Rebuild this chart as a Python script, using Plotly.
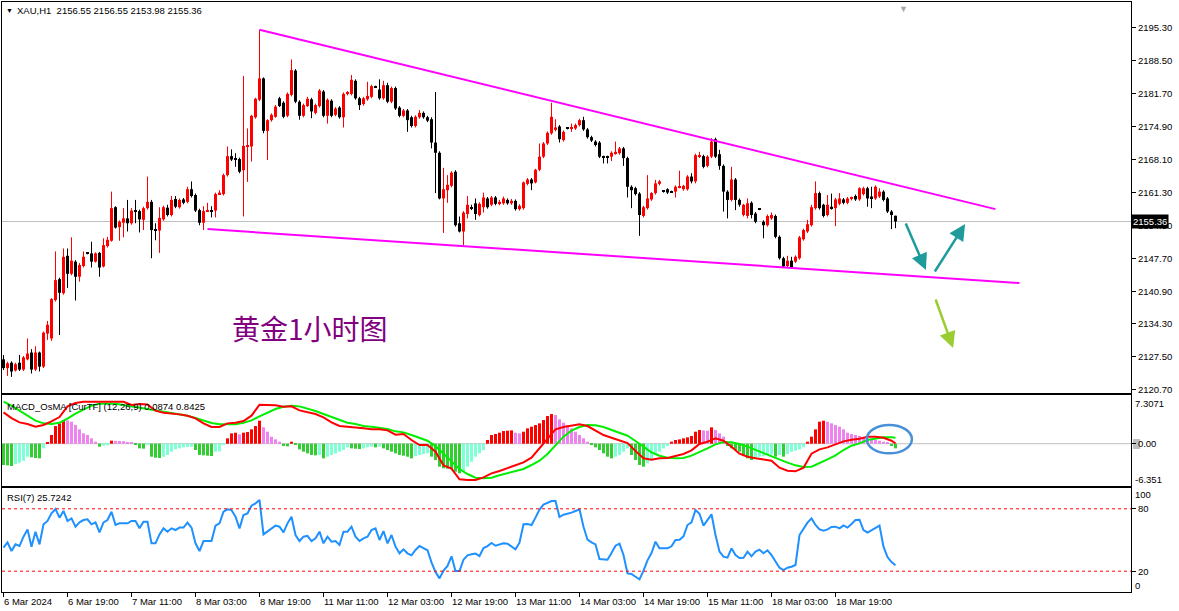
import plotly.graph_objects as go

# ---------------- data ----------------
bar_open = [
    2127.0, 2125.2, 2126.3, 2124.7, 2126.3, 2124.9, 2127.0, 2128.4, 2124.9, 2128.4,
    2125.5, 2132.3, 2131.3, 2139.2, 2143.5, 2140.6, 2148.3, 2144.6, 2147.1, 2144.0,
    2146.2, 2148.9, 2148.8, 2147.1, 2148.9, 2146.1, 2150.3, 2151.4, 2158.3, 2154.2,
    2155.1, 2156.0, 2155.0, 2157.6, 2157.5, 2155.7, 2158.1, 2159.4, 2153.8, 2153.5,
    2155.8, 2158.2, 2156.7, 2160.0, 2158.3, 2159.9, 2159.4, 2162.0, 2160.8, 2157.7,
    2155.1, 2157.4, 2157.7, 2157.6, 2161.0, 2161.0, 2164.9, 2168.8, 2168.2, 2168.2,
    2165.9, 2170.8, 2170.8, 2176.8, 2180.4, 2184.8, 2174.0, 2176.2, 2176.9, 2180.7,
    2179.8, 2177.1, 2181.4, 2186.4, 2180.0, 2177.1, 2179.1, 2180.5, 2177.7, 2179.1,
    2182.1, 2177.1, 2180.2, 2177.3, 2178.8, 2176.8, 2181.6, 2181.6, 2184.3, 2180.7,
    2179.5, 2180.5, 2181.0, 2183.1, 2182.5, 2180.7, 2183.4, 2180.0, 2182.8, 2178.8,
    2177.1, 2178.2, 2176.8, 2175.0, 2176.8, 2177.7, 2176.8, 2176.4, 2171.6, 2169.5,
    2160.1, 2161.8, 2162.7, 2165.6, 2155.0, 2153.3, 2156.9, 2158.1, 2159.1, 2156.7,
    2158.3, 2160.1, 2158.8, 2160.3, 2159.0, 2159.1, 2159.8, 2159.1, 2159.6, 2157.9,
    2158.1, 2163.1, 2164.0, 2163.4, 2166.0, 2168.7, 2171.4, 2173.5, 2174.2, 2174.9,
    2172.1, 2174.5, 2174.5, 2174.5, 2175.2, 2176.2, 2174.3, 2172.7, 2171.8, 2171.6,
    2168.7, 2168.7, 2168.7, 2169.4, 2169.4, 2170.4, 2168.4, 2162.5, 2162.2, 2161.1,
    2156.5, 2158.1, 2159.9, 2161.2, 2163.1, 2161.6, 2162.0, 2161.5, 2161.5, 2162.4,
    2162.0, 2162.0, 2164.6, 2163.6, 2168.7, 2168.8, 2166.8, 2168.7, 2172.3, 2169.2,
    2166.8, 2161.5, 2159.8, 2164.0, 2159.8, 2156.7, 2156.5, 2159.2, 2157.0, 2157.9,
    2155.3, 2154.6, 2156.0, 2156.5, 2152.2, 2147.8, 2146.2, 2147.3, 2147.1, 2147.8,
    2151.7, 2153.3, 2154.6, 2158.1, 2161.2, 2158.8, 2156.7, 2158.4, 2158.1, 2159.0,
    2159.9, 2159.2, 2160.0, 2160.6, 2159.9, 2161.0, 2162.2, 2160.5, 2160.1, 2160.5,
    2161.5, 2160.1, 2157.4, 2156.55]
bar_high = [
    2127.9, 2126.5, 2126.6, 2126.3, 2127.9, 2127.7, 2131.3, 2129.1, 2129.7, 2128.6,
    2132.7, 2134.9, 2139.6, 2149.2, 2143.8, 2149.8, 2149.8, 2152.1, 2147.4, 2146.8,
    2149.2, 2149.0, 2151.2, 2149.0, 2149.1, 2151.9, 2152.2, 2161.5, 2158.5, 2155.6,
    2158.1, 2159.8, 2158.1, 2159.8, 2157.8, 2158.4, 2164.6, 2159.8, 2155.0, 2158.3,
    2158.6, 2158.8, 2160.6, 2160.6, 2160.1, 2160.2, 2162.5, 2163.6, 2161.1, 2158.0,
    2158.5, 2159.2, 2158.5, 2161.3, 2161.8, 2165.2, 2170.8, 2170.2, 2169.4, 2168.5,
    2185.3, 2174.5, 2177.3, 2180.8, 2194.8, 2185.0, 2176.4, 2177.6, 2179.3, 2181.0,
    2180.1, 2181.9, 2188.7, 2186.7, 2180.3, 2179.6, 2181.0, 2180.8, 2179.6, 2182.6,
    2182.4, 2180.7, 2180.5, 2178.9, 2179.1, 2181.9, 2182.2, 2185.5, 2184.6, 2181.0,
    2181.0, 2184.1, 2183.5, 2183.3, 2184.6, 2184.3, 2183.9, 2183.1, 2183.1, 2179.1,
    2178.5, 2178.5, 2177.1, 2177.2, 2178.3, 2178.0, 2177.1, 2176.8, 2182.0, 2169.8,
    2166.4, 2164.9, 2165.7, 2165.9, 2156.4, 2157.5, 2160.6, 2158.8, 2160.1, 2159.3,
    2161.3, 2160.4, 2160.6, 2160.6, 2159.8, 2160.5, 2160.1, 2160.0, 2159.9, 2158.9,
    2163.6, 2164.3, 2164.3, 2166.2, 2171.4, 2171.7, 2173.9, 2179.8, 2176.4, 2175.2,
    2174.1, 2174.7, 2175.5, 2175.5, 2176.5, 2176.9, 2174.6, 2173.0, 2172.1, 2171.9,
    2168.9, 2168.9, 2169.8, 2171.8, 2170.7, 2170.7, 2168.7, 2162.8, 2162.5, 2161.4,
    2158.6, 2164.9, 2161.4, 2163.9, 2163.9, 2161.7, 2162.2, 2161.7, 2162.8, 2165.8,
    2162.9, 2164.9, 2165.3, 2169.3, 2169.7, 2169.1, 2169.0, 2172.5, 2172.6, 2170.1,
    2167.1, 2161.8, 2166.6, 2164.3, 2160.1, 2159.0, 2160.1, 2159.5, 2157.3, 2158.1,
    2155.6, 2156.8, 2157.2, 2156.8, 2152.5, 2148.1, 2148.3, 2148.1, 2148.4, 2152.4,
    2153.9, 2155.7, 2158.8, 2163.6, 2161.5, 2159.0, 2160.8, 2161.1, 2160.2, 2161.2,
    2160.2, 2160.4, 2160.5, 2160.9, 2162.4, 2162.5, 2162.5, 2162.5, 2162.8, 2162.2,
    2161.8, 2160.4, 2157.7, 2156.55]
bar_low = [
    2124.8, 2123.6, 2123.4, 2124.5, 2124.6, 2124.6, 2126.8, 2124.1, 2124.6, 2124.5,
    2125.2, 2131.0, 2130.8, 2138.9, 2132.0, 2140.3, 2141.7, 2144.3, 2139.1, 2143.0,
    2145.9, 2148.6, 2145.9, 2146.9, 2144.0, 2145.9, 2150.0, 2151.2, 2153.9, 2151.4,
    2152.1, 2153.3, 2154.7, 2155.0, 2153.1, 2153.6, 2157.8, 2147.8, 2151.5, 2148.9,
    2155.5, 2156.4, 2156.4, 2158.1, 2158.0, 2158.9, 2159.1, 2160.3, 2157.3, 2154.6,
    2153.6, 2157.3, 2156.2, 2156.2, 2160.8, 2160.7, 2164.6, 2167.8, 2166.6, 2165.3,
    2156.4, 2163.5, 2167.7, 2176.5, 2180.1, 2173.5, 2168.0, 2175.9, 2176.7, 2178.9,
    2176.6, 2176.8, 2181.1, 2179.7, 2176.3, 2176.8, 2178.9, 2176.6, 2177.4, 2178.8,
    2176.8, 2175.5, 2176.8, 2177.0, 2176.5, 2174.7, 2181.3, 2181.3, 2180.4, 2178.3,
    2179.2, 2180.2, 2180.7, 2182.9, 2180.4, 2180.4, 2179.7, 2179.7, 2178.3, 2176.8,
    2176.8, 2173.8, 2174.7, 2174.7, 2176.5, 2176.5, 2175.8, 2170.4, 2161.2, 2159.9,
    2153.0, 2159.2, 2162.4, 2154.3, 2153.1, 2150.5, 2156.0, 2157.7, 2155.7, 2156.4,
    2157.2, 2158.0, 2158.5, 2158.7, 2158.7, 2158.8, 2158.8, 2158.8, 2157.6, 2157.6,
    2157.8, 2162.8, 2161.8, 2163.2, 2165.7, 2168.4, 2171.1, 2173.2, 2173.9, 2171.6,
    2171.8, 2174.3, 2173.8, 2174.2, 2174.9, 2174.0, 2172.4, 2171.7, 2170.8, 2168.4,
    2167.3, 2167.3, 2167.8, 2169.1, 2169.1, 2166.8, 2160.3, 2158.1, 2160.7, 2152.4,
    2156.2, 2157.8, 2159.6, 2160.9, 2162.8, 2161.3, 2161.0, 2161.3, 2160.3, 2162.2,
    2161.7, 2161.7, 2163.2, 2163.2, 2168.4, 2166.3, 2166.5, 2168.4, 2168.4, 2166.0,
    2157.4, 2156.0, 2159.5, 2157.7, 2158.4, 2156.4, 2156.0, 2156.0, 2155.0, 2157.7,
    2151.9, 2154.3, 2155.7, 2151.9, 2147.5, 2145.8, 2145.9, 2145.6, 2146.8, 2147.5,
    2151.4, 2153.0, 2154.3, 2157.8, 2157.8, 2156.2, 2156.4, 2157.8, 2154.4, 2158.7,
    2158.9, 2158.9, 2159.7, 2159.6, 2159.6, 2160.7, 2158.4, 2158.1, 2159.8, 2160.2,
    2159.5, 2157.1, 2153.8, 2153.98]
bar_close = [
    2125.2, 2126.2, 2124.5, 2126.0, 2124.9, 2127.4, 2128.2, 2124.9, 2128.4, 2125.5,
    2132.5, 2134.1, 2139.4, 2143.3, 2140.7, 2148.1, 2144.6, 2147.3, 2144.0, 2146.4,
    2148.1, 2148.8, 2147.1, 2148.8, 2145.9, 2150.5, 2151.6, 2158.1, 2154.1, 2155.3,
    2156.0, 2155.0, 2157.6, 2157.4, 2155.8, 2158.1, 2159.4, 2153.6, 2153.5, 2156.1,
    2158.3, 2156.7, 2159.8, 2158.4, 2159.8, 2159.2, 2162.0, 2160.6, 2157.6, 2155.1,
    2157.5, 2157.5, 2157.4, 2161.0, 2161.3, 2164.9, 2168.8, 2168.1, 2168.1, 2165.6,
    2170.9, 2170.9, 2177.1, 2180.6, 2184.8, 2174.0, 2176.2, 2177.3, 2179.0, 2179.1,
    2176.9, 2181.6, 2186.5, 2180.0, 2177.1, 2179.3, 2180.6, 2178.0, 2179.3, 2182.3,
    2177.1, 2180.4, 2177.1, 2178.6, 2176.8, 2181.6, 2181.9, 2184.5, 2180.7, 2179.3,
    2180.7, 2181.2, 2183.2, 2183.0, 2180.7, 2183.4, 2180.0, 2182.8, 2178.6, 2177.1,
    2178.2, 2176.2, 2175.0, 2176.9, 2177.7, 2176.8, 2176.1, 2171.6, 2169.5, 2160.1,
    2162.0, 2162.9, 2165.4, 2154.6, 2153.3, 2157.2, 2158.8, 2158.0, 2156.9, 2159.0,
    2160.3, 2158.3, 2160.3, 2159.0, 2159.4, 2160.1, 2159.1, 2159.6, 2157.9, 2158.6,
    2163.4, 2164.0, 2163.2, 2166.0, 2168.7, 2171.4, 2173.6, 2176.9, 2174.7, 2172.3,
    2173.8, 2174.4, 2174.6, 2175.2, 2176.2, 2174.3, 2172.7, 2172.0, 2171.1, 2168.7,
    2168.6, 2168.6, 2169.5, 2169.7, 2170.4, 2168.4, 2162.5, 2161.8, 2161.0, 2156.7,
    2158.3, 2160.1, 2161.2, 2163.2, 2163.6, 2161.5, 2161.3, 2161.4, 2162.5, 2162.5,
    2162.7, 2164.6, 2163.6, 2169.0, 2169.0, 2166.6, 2168.7, 2171.8, 2168.7, 2166.8,
    2161.5, 2159.8, 2164.0, 2159.8, 2158.8, 2158.8, 2159.1, 2156.7, 2155.3, 2157.9,
    2154.6, 2156.5, 2156.7, 2152.2, 2147.8, 2146.1, 2147.3, 2145.9, 2148.1, 2152.1,
    2153.6, 2154.8, 2158.3, 2161.2, 2158.1, 2156.5, 2158.8, 2158.1, 2159.9, 2160.1,
    2159.2, 2160.1, 2160.2, 2159.9, 2162.2, 2162.2, 2160.1, 2160.1, 2162.5, 2161.5,
    2159.8, 2157.4, 2156.7, 2155.36]

# MACD OsMA histogram, one value per bar
osma = [
    -3.20, -3.25, -3.35, -3.05, -2.85, -2.55, -1.95, -2.05, -2.15, -2.20,
    -0.70, 0.15, 1.30, 2.65, 3.05, 3.55, 3.50, 3.30, 2.80, 2.15,
    1.55, 1.30, 0.80, 0.30, -0.45, -0.30, -0.25, 0.45, 0.42, 0.40,
    0.37, 0.20, 0.15, -0.15, -0.70, -0.75, -0.20, -1.95, -2.10, -2.15,
    -1.95, -1.70, -1.20, -0.85, -0.70, -0.55, -0.50, -0.45, -0.95, -1.70,
    -1.75, -1.80, -1.85, -1.20, -1.15, -0.05, 0.80, 1.55, 1.65, 1.40,
    1.65, 1.75, 2.15, 2.65, 3.45, 2.45, 1.80, 1.05, 0.65, 0.30,
    -0.35, -0.40, 0.30, -0.15, -0.85, -1.20, -1.45, -1.70, -1.75, -1.70,
    -2.20, -1.95, -1.70, -1.45, -1.20, -0.95, -0.55, -0.70, -0.75, -0.80,
    -0.70, -0.55, -0.45, -0.55, -0.45, -0.70, -0.95, -1.20, -1.45, -1.70,
    -1.80, -1.95, -2.20, -1.85, -1.70, -1.55, -1.45, -1.95, -2.45, -3.45,
    -3.70, -3.75, -3.85, -4.20, -4.45, -4.20, -3.45, -2.70, -1.95, -1.45,
    -0.95, 0.55, 1.30, 1.45, 1.65, 1.90, 1.95, 2.00, 1.65, 1.55,
    1.80, 2.30, 2.55, 2.80, 3.05, 3.55, 4.15, 4.45, 4.30, 3.65,
    3.15, 2.80, 2.30, 1.80, 1.30, 0.80, 0.30, -0.20, -0.55, -0.95,
    -1.45, -1.95, -2.20, -1.95, -1.70, -1.20, -0.70, -1.70, -2.45, -3.20,
    -3.45, -2.95, -2.45, -1.70, -1.20, -0.70, -0.35, 0.30, 0.55, 0.65,
    0.80, 0.95, 1.15, 1.80, 2.05, 2.00, 1.95, 2.45, 2.05, 1.55,
    1.05, -0.35, -0.70, -0.95, -1.20, -1.70, -2.20, -2.45, -2.20, -1.95,
    -1.90, -1.70, -1.65, -1.95, -1.70, -1.95, -1.55, -1.20, -1.05, -0.85,
    -0.55, 0.30, 1.05, 2.15, 3.30, 3.45, 3.30, 3.05, 2.80, 2.55,
    2.15, 1.65, 1.45, 1.30, 1.15, 0.95, 0.80, 0.65, 0.55, 0.45,
    0.30, 0.15, -0.35, -0.70]

# MACD main (red) and signal (green) lines, read every second bar plus the last bar
macd_main = [
    4.70, 3.85, 3.20, 2.95, 2.55, 2.80, 3.35, 4.00, 5.60, 6.10,
    6.30, 6.30, 6.30, 6.30, 6.35, 6.30, 5.80, 5.95, 5.90, 4.95,
    4.65, 4.55, 4.40, 4.20, 3.80, 3.05, 2.50, 2.50, 3.05, 3.15,
    3.40, 4.20, 5.85, 5.80, 5.75, 5.55, 5.60, 5.00, 4.70, 4.45,
    3.95, 3.20, 2.65, 2.55, 2.50, 2.30, 2.15, 2.15, 2.00, 1.35,
    1.45, 0.55, -0.20, -0.20, -1.20, -3.25, -3.75, -5.35, -5.45, -5.45,
    -5.05, -4.45, -4.10, -3.70, -3.30, -2.80, -2.10, -0.70, 0.60, 2.15,
    2.50, 2.70, 2.90, 2.65, 1.95, 1.30, 0.90, 0.55, 0.10, -1.10,
    -2.20, -2.40, -2.20, -2.15, -1.90, -1.55, -1.00, -0.05, 0.30, 0.80,
    0.45, -0.45, -1.50, -1.95, -2.20, -2.35, -2.55, -3.60, -4.05, -4.15,
    -3.60, -1.50, -0.85, -0.55, -0.15, 0.35, 0.60, 0.75, 1.05, 1.05,
    0.90, 0.45, 0.05]
macd_signal = [
    6.30, 5.70, 4.95, 4.20, 3.45, 3.05, 2.95, 3.15, 3.75, 4.50,
    5.15, 5.70, 6.00, 6.05, 6.00, 5.80, 5.60, 5.40, 5.15, 4.95,
    4.80, 4.65, 4.40, 4.20, 3.85, 3.45, 3.10, 2.90, 2.85, 2.90,
    3.15, 3.50, 4.10, 4.65, 5.20, 5.55, 5.70, 5.60, 5.30, 4.90,
    4.45, 4.00, 3.55, 3.15, 2.95, 2.65, 2.55, 2.40, 2.20, 1.85,
    1.70, 1.30, 0.85, 0.45, -0.35, -1.45, -2.60, -3.80, -4.55, -5.10,
    -5.20, -5.10, -4.75, -4.45, -4.15, -3.80, -3.20, -2.55, -1.55, -0.30,
    1.05, 1.95, 2.50, 2.80, 2.75, 2.50, 2.10, 1.65, 1.20, 0.40,
    -0.45, -1.30, -1.80, -2.10, -2.20, -2.15, -1.80, -1.30, -0.70, -0.10,
    0.25, 0.20, -0.05, -0.45, -0.95, -1.40, -1.85, -2.40, -2.85, -3.25,
    -3.50, -3.45, -2.95, -2.35, -1.75, -0.95, -0.30, 0.05, 0.55, 0.80,
    0.95, 0.95, 0.90]

# RSI(7), one value per bar
rsi = [
    42.6, 47.7, 39.4, 45.8, 44.2, 53.2, 60.2, 43.6, 58.0, 45.8,
    65.1, 68.3, 75.6, 79.8, 71.5, 77.9, 68.3, 70.8, 62.8, 67.0,
    69.2, 69.9, 65.1, 67.0, 57.4, 67.0, 69.2, 77.2, 64.4, 66.0,
    66.0, 66.0, 68.3, 68.3, 61.2, 67.6, 67.6, 46.8, 46.8, 55.4,
    61.2, 58.0, 61.2, 59.6, 61.9, 61.9, 66.7, 61.9, 46.8, 39.4,
    49.0, 49.0, 49.0, 63.8, 66.0, 77.2, 79.5, 78.8, 72.4, 61.2,
    74.0, 75.6, 83.0, 85.2, 88.5, 55.4, 58.0, 61.2, 63.8, 62.8,
    57.4, 66.0, 72.4, 54.8, 49.0, 53.2, 54.0, 49.0, 51.6, 58.0,
    46.8, 53.2, 48.4, 49.0, 45.2, 58.0, 58.0, 62.8, 53.2, 49.0,
    51.6, 53.2, 59.6, 61.2, 50.0, 58.6, 46.8, 54.8, 43.6, 37.2,
    41.0, 37.2, 35.3, 40.4, 44.2, 42.3, 40.1, 28.5, 19.2, 13.1,
    20.5, 25.0, 34.3, 20.2, 20.2, 31.1, 35.3, 36.2, 36.9, 34.6,
    42.3, 44.2, 47.1, 44.5, 45.5, 46.8, 46.5, 43.9, 41.0, 47.4,
    65.1, 65.4, 64.4, 71.5, 79.2, 84.0, 85.9, 87.5, 87.5, 72.1,
    74.3, 75.0, 76.3, 77.9, 79.5, 62.8, 50.3, 47.7, 45.8, 31.7,
    31.1, 31.1, 37.5, 44.5, 46.5, 35.6, 17.9, 17.3, 14.7, 12.2,
    20.5, 30.4, 37.5, 48.4, 42.0, 42.0, 42.0, 43.9, 50.0, 50.3,
    53.5, 64.4, 67.0, 78.8, 75.3, 63.8, 69.5, 74.7, 54.8, 38.8,
    34.0, 33.0, 42.0, 35.6, 32.7, 33.0, 38.8, 34.3, 38.8, 40.7,
    37.2, 40.1, 35.6, 29.2, 23.4, 21.1, 23.4, 24.3, 26.0, 54.8,
    61.2, 66.7, 70.8, 64.4, 60.2, 59.0, 60.2, 62.5, 62.8, 61.2,
    64.1, 61.9, 65.4, 69.2, 69.5, 59.6, 57.1, 59.6, 61.5, 63.8,
    43.6, 33.6, 28.8, 25.72]

time_labels = ["6 Mar 2024", "6 Mar 19:00", "7 Mar 11:00", "8 Mar 03:00", "8 Mar 19:00",
               "11 Mar 11:00", "12 Mar 03:00", "12 Mar 19:00", "13 Mar 11:00", "14 Mar 03:00",
               "14 Mar 19:00", "15 Mar 11:00", "18 Mar 03:00", "18 Mar 19:00"]
price_ticks = [2195.30, 2188.50, 2181.70, 2174.90, 2168.10, 2161.30, 2154.50,
               2147.70, 2140.90, 2134.30, 2127.50, 2120.70]
last_price = 2155.36
macd_max, macd_min = 7.3071, -6.351
rsi_levels = [80, 20]
title_text = "XAU,H1  2156.55 2156.55 2153.98 2155.36"
macd_title = "MACD_OsMA [CurTF] (12,26,9) 0.0874 0.8425"
rsi_title = "RSI(7) 25.7242"
chart_note = "黄金1小时图"

# drawing objects anchored in (bar index, price)
upper_trend_bars, upper_trend_prices = [64, 248], [2194.8, 2157.9]
lower_trend_bars, lower_trend_prices = [51, 254], [2153.8, 2142.7]
arrow_tail_bars = [225.4, 232.6, 232.9]
arrow_tail_prices = [2155.25, 2144.76, 2139.62]
arrow_tip_bars = [230.6, 240.4, 237.4]
arrow_tip_prices = [2145.38, 2154.84, 2129.33]
note_bar, note_price = 76.6, 2133.45
ellipse_bars, ellipse_values = [215.8, 227.1], [-1.45, 2.8]

# ---------------- style ----------------
FONT = "Liberation Sans, Arial, sans-serif"
FS = 9.5
RED, BLACK = "#FF0000", "#000000"
VIOLET, LGREEN, AQUA = "#EE82EE", "#32CD32", "#7FFFD4"
SIG_GREEN = "#00EE00"
RSI_BLUE = "#1E90FF"
MAGENTA = "#FF00FF"
GRAY = "#C0C0C0"
ARROW_COLORS = ["#1E9C9C", "#1E9C9C", "#9ACD32"]

W, H = 1179, 611
ML, MR, MT, MB = 2, 48, 2, 19
PW, PH = W - ML - MR, H - MT - MB
XMIN = -0.375
XMAX = XMIN + PW / 4.0
DOM_MAIN = [(592 - 393) / PH, 1.0]
DOM_MACD = [(592 - 486) / PH, (592 - 395) / PH]
DOM_RSI = [0.0, (592 - 488) / PH]
MAIN_RANGE = [2120.08, 2200.51]


def px_x(px):
    return (px - ML) / PW


def px_y(py):
    return (H - MB - py) / PH


n = len(bar_open)
idx = list(range(n))
label_bars = list(range(0, n, 16))[:len(time_labels)]
line_bars = list(range(0, n, 2)) + [n - 1]

fig = go.Figure()

# ---- candles ----
up = [i for i in idx if bar_close[i] > bar_open[i]]
dn = [i for i in idx if bar_close[i] <= bar_open[i]]
for ids, col in ((up, RED), (dn, BLACK)):
    xs, ys = [], []
    for i in ids:
        xs += [i, i, None]
        ys += [bar_low[i], bar_high[i], None]
    fig.add_trace(go.Scatter(x=xs, y=ys, mode="lines", line=dict(color=col, width=1),
                             xaxis="x", yaxis="y", hoverinfo="skip"))
    fig.add_trace(go.Bar(x=ids,
                         y=[max(abs(bar_close[i] - bar_open[i]), 0.2) for i in ids],
                         base=[min(bar_open[i], bar_close[i]) for i in ids],
                         width=0.75, marker=dict(color=col, line=dict(width=0)),
                         xaxis="x", yaxis="y", hoverinfo="skip"))

# trend lines
fig.add_trace(go.Scatter(x=upper_trend_bars, y=upper_trend_prices, mode="lines",
                         line=dict(color=MAGENTA, width=2), xaxis="x", yaxis="y", hoverinfo="skip"))
fig.add_trace(go.Scatter(x=lower_trend_bars, y=lower_trend_prices, mode="lines",
                         line=dict(color=MAGENTA, width=2), xaxis="x", yaxis="y", hoverinfo="skip"))

# ---- MACD ----
hist_colors = []
prev = None
for v in osma:
    if v >= 0:
        hist_colors.append(RED if (prev is None or v >= prev) else VIOLET)
    else:
        hist_colors.append(AQUA if (prev is not None and v >= prev) else LGREEN)
    prev = v
fig.add_trace(go.Bar(x=idx, y=osma, width=0.75, marker=dict(color=hist_colors, line=dict(width=0)),
                     xaxis="x2", yaxis="y2", hoverinfo="skip"))
fig.add_trace(go.Scatter(x=line_bars, y=macd_signal, mode="lines", line=dict(color=SIG_GREEN, width=2),
                         xaxis="x2", yaxis="y2", hoverinfo="skip"))
fig.add_trace(go.Scatter(x=line_bars, y=macd_main, mode="lines", line=dict(color=RED, width=2),
                         xaxis="x2", yaxis="y2", hoverinfo="skip"))

# ---- RSI ----
fig.add_trace(go.Scatter(x=idx, y=rsi, mode="lines", line=dict(color=RSI_BLUE, width=2),
                         xaxis="x3", yaxis="y3", hoverinfo="skip"))

# ---- shapes ----
shapes = [
    dict(type="line", xref="paper", yref="y", x0=0, x1=1, y0=last_price, y1=last_price,
         line=dict(color=GRAY, width=1), layer="below"),
    dict(type="line", xref="paper", yref="y2", x0=0, x1=1, y0=0, y1=0,
         line=dict(color=GRAY, width=1), layer="below"),
    dict(type="circle", xref="x2", yref="y2", x0=ellipse_bars[0], x1=ellipse_bars[1],
         y0=ellipse_values[0], y1=ellipse_values[1], line=dict(color="#4A90D9", width=2.5)),
    # current-value marker behind the MACD "0.00" label
    dict(type="rect", xref="paper", yref="paper", x0=px_x(1133), x1=px_x(1140),
         y0=px_y(449), y1=px_y(439), fillcolor=GRAY, line=dict(width=0), layer="below"),
]
for lv in rsi_levels:
    shapes.append(dict(type="line", xref="paper", yref="y3", x0=0, x1=1, y0=lv, y1=lv,
                       line=dict(color=RED, width=1, dash="3px,3px")))

# ---- annotations ----
ann = []
tf = dict(family=FONT, size=FS, color="black")
ann.append(dict(text="▼", xref="paper", yref="paper", x=px_x(9.5), y=px_y(10.5), xanchor="center",
                yanchor="middle", showarrow=False, font=dict(family=FONT, size=7, color="black")))
ann.append(dict(text=title_text, xref="paper", yref="paper", x=px_x(15), y=px_y(11), xanchor="left",
                yanchor="middle", showarrow=False, font=tf))
ann.append(dict(text=macd_title, xref="paper", yref="paper", x=px_x(5), y=px_y(407), xanchor="left",
                yanchor="middle", showarrow=False, font=tf))
ann.append(dict(text=rsi_title, xref="paper", yref="paper", x=px_x(5), y=px_y(497), xanchor="left",
                yanchor="middle", showarrow=False, font=tf))
# last price box
ann.append(dict(text=f"{last_price:.2f}", xref="paper", yref="y", x=px_x(1131), y=last_price,
                xanchor="left", yanchor="middle", showarrow=False, bgcolor="black", borderpad=1,
                font=dict(family=FONT, size=FS, color="white")))
# sub-window scale labels
for txt, py in (("7.3071", 403), ("-6.351", 479), ("100", 494.5), ("0", 585)):
    ann.append(dict(text=txt, xref="paper", yref="paper", x=px_x(1133), y=px_y(py),
                    xanchor="left", yanchor="middle", showarrow=False, font=tf))
# time labels
for b, t in zip(label_bars, time_labels):
    ann.append(dict(text=t, xref="x3", yref="paper", x=b, y=px_y(594), xanchor="left",
                    yanchor="top", xshift=-2, showarrow=False, font=tf))
# chart shift marker
ann.append(dict(text="▼", xref="x", yref="paper", x=224.9, y=1.0, xanchor="center", yanchor="top",
                showarrow=False, font=dict(family=FONT, size=9, color="#A8A8A8")))
# text note
ann.append(dict(text=chart_note, xref="x", yref="y", x=note_bar, y=note_price, xanchor="center",
                yanchor="middle", showarrow=False,
                font=dict(family="Noto Sans CJK SC", size=28, color="#800080")))
# arrows
for tb, tp, hb, hp, col in zip(arrow_tail_bars, arrow_tail_prices, arrow_tip_bars, arrow_tip_prices,
                               ARROW_COLORS):
    ann.append(dict(text="", x=hb, y=hp, ax=tb, ay=tp, xref="x", yref="y", axref="x", ayref="y",
                    showarrow=True, arrowhead=2, arrowsize=1.3, arrowwidth=2.5, arrowcolor=col,
                    standoff=0))

xbase = dict(range=[XMIN, XMAX], showgrid=False, zeroline=False, showline=True, mirror=True,
             linecolor="black", linewidth=1, showticklabels=False, fixedrange=True)
ybase = dict(showgrid=False, zeroline=False, showline=True, mirror=True, linecolor="black",
             linewidth=1, side="right", ticks="outside", ticklen=4, tickcolor="black",
             tickfont=tf, fixedrange=True)

fig.update_layout(
    width=W, height=H, margin=dict(l=ML, r=MR, t=MT, b=MB),
    paper_bgcolor="white", plot_bgcolor="white", showlegend=False, barmode="overlay",
    xaxis=dict(anchor="y", ticks="", **xbase),
    xaxis2=dict(anchor="y2", ticks="", **xbase),
    xaxis3=dict(anchor="y3", ticks="outside", ticklen=4, tickcolor="black",
                tickvals=label_bars, **xbase),
    yaxis=dict(anchor="x", domain=DOM_MAIN, range=MAIN_RANGE, tickvals=price_ticks,
               ticktext=[f"{p:.2f}" for p in price_ticks], **ybase),
    yaxis2=dict(anchor="x2", domain=DOM_MACD, range=[macd_min, macd_max], tickvals=[0],
                ticktext=["0.00"], **ybase),
    yaxis3=dict(anchor="x3", domain=DOM_RSI, range=[0, 100], tickvals=rsi_levels,
                ticktext=[str(v) for v in rsi_levels], **ybase),
    shapes=shapes, annotations=ann,
)

fig.write_html("out.html", post_script="document.body.style.margin='0';")
